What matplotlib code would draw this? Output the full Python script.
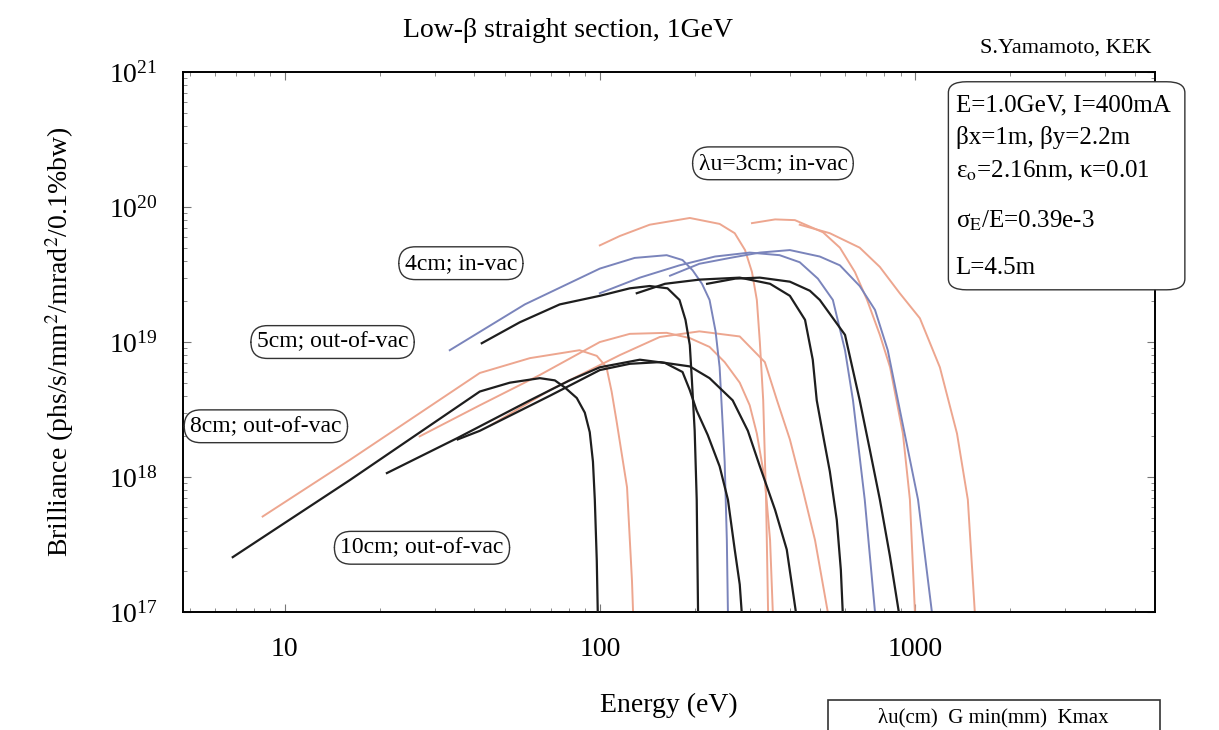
#%%
# brilliance_low_beta.py

import numpy as np
import matplotlib
matplotlib.use("Agg")
import matplotlib.pyplot as plt
from matplotlib.patches import FancyBboxPatch, Rectangle
from matplotlib.ticker import LogLocator, FuncFormatter, NullFormatter

# 0.) Plotting setup

plt.rcParams.update({
    "font.size": 20,
    "axes.linewidth": 1.4,
    "xtick.labelsize": 20,
    "ytick.labelsize": 20,
    "mathtext.fontset": "stix",
})
plt.rcParams["font.family"] = ["Liberation Serif", "DejaVu Serif"]

# 1.) Data (energy in eV, brilliance)

# 10cm; out-of-vac (black, lower group)
e_10cm_h1 = [6.84, 16.1, 41.6, 51.8, 64.5, 72.0, 77.5, 84.5, 89.6, 92.9, 95.1, 96.4, 97.8, 98.5]
b_10cm_h1 = [2.55e17, 9.5e17, 4.3e18, 5.0e18, 5.4e18, 5.2e18, 4.6e18, 3.85e18, 3.0e18, 2.15e18,
             1.3e18, 6.8e17, 2.4e17, 1.0e17]
e_10cm_h3 = [21.1, 35.4, 60.0, 80.2, 100, 134, 161, 183, 193, 203, 220, 240, 255, 268, 278, 282]
b_10cm_h3 = [1.07e18, 1.95e18, 3.7e18, 5.2e18, 6.5e18, 7.4e18, 7.0e18, 6.0e18, 4.4e18, 3.1e18,
             2.05e18, 1.2e18, 6.8e17, 2.9e17, 1.6e17, 1.0e17]
e_10cm_h5 = [35.4, 41.6, 69.4, 100, 124.5, 155, 193, 223, 264, 295, 322, 360, 392, 419]
b_10cm_h5 = [1.9e18, 2.2e18, 4.0e18, 6.2e18, 6.9e18, 7.1e18, 6.6e18, 5.4e18, 3.7e18, 2.2e18,
             1.2e18, 5.7e17, 2.9e17, 1.0e17]

# 8cm; out-of-vac (orange, middle group)
e_8cm_h1 = [8.51, 16.1, 41.6, 60.0, 86.2, 97.8, 105, 109, 113, 122, 126.5, 127.5]
b_8cm_h1 = [5.1e17, 1.34e18, 5.9e18, 7.6e18, 8.7e18, 7.9e18, 6.5e18, 4.3e18, 2.6e18, 8.4e17,
            1.7e17, 1.0e17]
e_8cm_h3 = [26.8, 41.6, 64.5, 100, 124.5, 163, 193, 223, 249, 278, 299, 315, 334, 347, 354]
b_8cm_h3 = [2.0e18, 3.4e18, 5.7e18, 1.0e19, 1.15e19, 1.17e19, 1.07e19, 9.2e18, 7.1e18, 5.0e18,
            3.4e18, 2.1e18, 9.5e17, 3.4e17, 1.0e17]
e_8cm_h5 = [44.8, 69.4, 115.7, 155, 207, 278, 334, 365, 401, 441, 482, 529]
b_8cm_h5 = [2.4e18, 4.4e18, 8.0e18, 1.09e19, 1.2e19, 1.1e19, 7.1e18, 3.7e18, 1.9e18, 8.0e17,
            3.4e17, 1.0e17]

# 5cm; out-of-vac (black, upper group)
e_5cm_h1 = [42.2, 55.7, 74.6, 100, 124.5, 144, 164, 179, 187, 193, 196, 200, 203, 205]
b_5cm_h1 = [9.8e18, 1.4e19, 1.9e19, 2.2e19, 2.5e19, 2.6e19, 2.5e19, 2.05e19, 1.46e19, 9.5e18,
            5.2e18, 2.2e18, 6.8e17, 1.0e17]
e_5cm_h3 = [131, 161, 207, 278, 347, 401, 448, 474, 488, 514, 537, 565, 582, 590]
b_5cm_h3 = [2.3e19, 2.7e19, 2.9e19, 3.0e19, 2.7e19, 2.2e19, 1.46e19, 7.4e18, 3.7e18, 1.9e18,
            1.1e18, 4.8e17, 2.05e17, 1.0e17]
e_5cm_h5 = [219, 269, 322, 401, 464, 499, 600, 668, 719, 774, 833, 889]
b_5cm_h5 = [2.7e19, 2.95e19, 3.0e19, 2.8e19, 2.4e19, 2.05e19, 1.13e19, 3.7e18, 1.6e18, 6.8e17,
            2.6e17, 1.0e17]

# 4cm; in-vac (blue)
e_4cm_h1 = [33.4, 57.8, 100, 129, 163, 183, 197, 211, 223, 233, 240, 249, 253, 255]
b_4cm_h1 = [8.7e18, 1.9e19, 3.5e19, 4.2e19, 4.4e19, 4.05e19, 3.4e19, 2.7e19, 2.05e19, 1.2e19,
            6.5e18, 1.3e18, 3.4e17, 1.0e17]
e_4cm_h3 = [100, 134, 179, 232, 299, 372, 431, 492, 549, 600, 636, 693, 747]
b_4cm_h3 = [2.3e19, 3.0e19, 3.7e19, 4.3e19, 4.6e19, 4.4e19, 3.9e19, 2.95e19, 2.05e19, 8.7e18,
            3.7e18, 6.8e17, 1.0e17]
e_4cm_h5 = [167, 207, 259, 322, 401, 499, 578, 668, 747, 820, 883, 1023, 1132]
b_4cm_h5 = [3.1e19, 3.8e19, 4.2e19, 4.6e19, 4.8e19, 4.3e19, 3.7e19, 2.6e19, 1.73e19, 8.7e18,
            3.7e18, 6.8e17, 1.0e17]

# 3cm; in-vac (orange, top group)
e_3cm_h1 = [100, 115.7, 144, 193, 240, 268, 289, 304, 315, 322, 330, 337, 342]
b_3cm_h1 = [5.2e19, 6.1e19, 7.4e19, 8.3e19, 7.5e19, 6.4e19, 4.8e19, 3.3e19, 2.05e19, 1.0e19,
            3.7e18, 6.8e17, 1.0e17]
e_3cm_h3 = [304, 360, 416, 511, 578, 645, 705, 774, 834, 916, 964, 1000]
b_3cm_h3 = [7.6e19, 8.1e19, 8.0e19, 6.5e19, 5.0e19, 3.3e19, 2.05e19, 1.13e19, 6.5e18, 2.1e18,
            6.8e17, 1.0e17]
e_3cm_h5 = [431, 537, 668, 774, 895, 1037, 1200, 1360, 1472, 1549]
b_3cm_h5 = [7.4e19, 6.4e19, 5.0e19, 3.6e19, 2.3e19, 1.5e19, 6.5e18, 2.1e18, 6.8e17, 1.0e17]

x_range = [4.75, 5780]
y_range = [1e17, 1e21]

params_lines = [
    "E=1.0GeV, I=400mA",
    "\u03b2x=1m, \u03b2y=2.2m",
    "\u03b5$_{\\rm o}$=2.16nm, \u03ba=0.01",
    "\u03c3$_{\\rm E}$/E=0.39e-3",
    "L=4.5m",
]

# 2.) Common definitions

col_black = "#1e1e1e"
col_blue = "#7a84bb"
col_orange = "#eda68f"

curves = [
    (e_8cm_h1, b_8cm_h1, col_orange), (e_8cm_h3, b_8cm_h3, col_orange), (e_8cm_h5, b_8cm_h5, col_orange),
    (e_3cm_h1, b_3cm_h1, col_orange), (e_3cm_h3, b_3cm_h3, col_orange), (e_3cm_h5, b_3cm_h5, col_orange),
    (e_4cm_h1, b_4cm_h1, col_blue), (e_4cm_h3, b_4cm_h3, col_blue), (e_4cm_h5, b_4cm_h5, col_blue),
    (e_10cm_h1, b_10cm_h1, col_black), (e_10cm_h3, b_10cm_h3, col_black), (e_10cm_h5, b_10cm_h5, col_black),
    (e_5cm_h1, b_5cm_h1, col_black), (e_5cm_h3, b_5cm_h3, col_black), (e_5cm_h5, b_5cm_h5, col_black),
]

# 3.) Figure

fig = plt.figure(figsize=(12.19, 7.30), dpi=100)
ax = fig.add_axes([0.150, 0.1616, 0.7975, 0.7397])

for e, b, c in curves:
    lw = 1.6 if c == col_black else 1.4
    ax.plot(e, b, color=c, linewidth=lw, zorder=3 if c == col_black else 2,
            solid_joinstyle="round")

ax.set_xscale("log")
ax.set_yscale("log")
ax.set_xlim(*x_range)
ax.set_ylim(*y_range)

ax.xaxis.set_major_locator(LogLocator(base=10))
ax.xaxis.set_major_formatter(FuncFormatter(lambda v, p: f"{v:g}"))
ax.xaxis.set_minor_formatter(NullFormatter())
ax.yaxis.set_major_locator(LogLocator(base=10))
ax.yaxis.set_minor_formatter(NullFormatter())
ax.tick_params(which="both", direction="in", top=True, right=True, color="#777777")
ax.tick_params(which="major", length=6, pad=18)
ax.tick_params(which="minor", length=3)

ax.set_xlabel("Energy (eV)", labelpad=22)
ax.set_ylabel(r"Brilliance (phs/s/mm$^2$/mrad$^2$/0.1%bw)", labelpad=24)

# undulator labels
box_style = dict(boxstyle="round,pad=0.25,rounding_size=0.7", fc="white", ec="#333333", lw=1.0)
labels = [
    ("\u03bbu=3cm; in-vac", 0.607, 0.831),
    ("4cm; in-vac", 0.286, 0.646),
    ("5cm; out-of-vac", 0.154, 0.500),
    ("8cm; out-of-vac", 0.0854, 0.344),
    ("10cm; out-of-vac", 0.246, 0.119),
]
for txt, xf, yf in labels:
    ax.text(xf, yf, txt, transform=ax.transAxes, ha="center", va="center",
            fontsize=17, bbox=box_style, zorder=5, clip_on=False)

# parameter box (sticks out of the frame on the right)
pbox = FancyBboxPatch((0.778, 0.603), 0.194, 0.285, transform=fig.transFigure,
                      boxstyle="round,pad=0,rounding_size=0.015",
                      fc="white", ec="#333333", lw=1.0, zorder=6)
fig.add_artist(pbox)
for txt, yf in zip(params_lines, [0.856, 0.812, 0.766, 0.697, 0.633]):
    fig.text(0.784, yf, txt, ha="left", va="center", fontsize=18, zorder=7)

fig.text(0.466, 0.958, "Low-\u03b2 straight section, 1GeV", ha="center", va="center", fontsize=20)
fig.text(0.945, 0.934, "S.Yamamoto, KEK", ha="right", va="center", fontsize=16)

# partially visible table box at the bottom right
fig.add_artist(Rectangle((0.679, -0.06), 0.273, 0.101, transform=fig.transFigure,
                         fill=False, ec="#333333", lw=1.2))
fig.text(0.815, 0.004, "\u03bbu(cm)  G min(mm)  Kmax", ha="center", va="bottom", fontsize=15)

fig.savefig("out.png", dpi=100)
plt.close(fig)
